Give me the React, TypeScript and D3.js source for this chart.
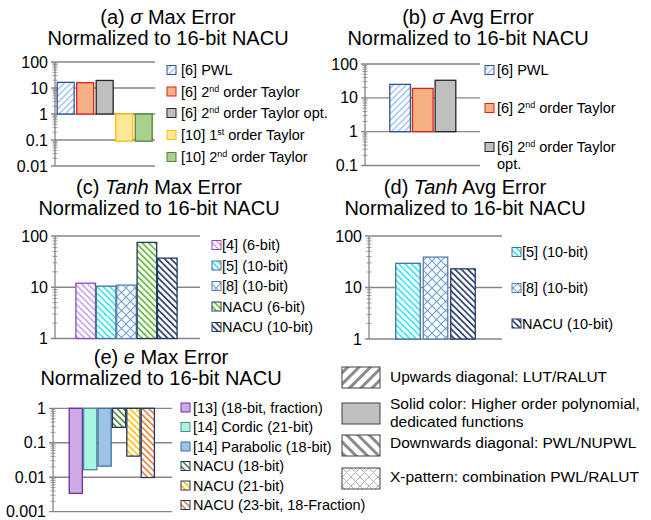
import React from 'react'
import * as d3 from 'd3'

const FONT = '"Liberation Sans", Arial, sans-serif'

// (a) sigma max error
const sigmaMaxLabels = ['[6] PWL', '[6] 2^nd order Taylor', '[6] 2^nd order Taylor opt.', '[10] 1^st order Taylor', '[10] 2^nd order Taylor']
const sigmaMaxValues = [16.5, 16, 19.5, 0.09, 0.09]
const sigmaMaxTicks = [100, 10, 1, 0.1, 0.01]
const sigmaMaxTickLabels = ['100', '10', '1', '0.1', '0.01']

// (b) sigma avg error
const sigmaAvgLabels = ['[6] PWL', '[6] 2^nd order Taylor', '[6] 2^nd order Taylor\nopt.']
const sigmaAvgValues = [25, 19, 33]
const sigmaAvgTicks = [100, 10, 1, 0.1]
const sigmaAvgTickLabels = ['100', '10', '1', '0.1']

// (c) tanh max error
const tanhMaxLabels = ['[4] (6-bit)', '[5] (10-bit)', '[8] (10-bit)', 'NACU (6-bit)', 'NACU (10-bit)']
const tanhMaxValues = [12, 10.5, 11, 75, 37]
const tanhMaxTicks = [100, 10, 1]
const tanhMaxTickLabels = ['100', '10', '1']

// (d) tanh avg error
const tanhAvgLabels = ['[5] (10-bit)', '[8] (10-bit)', 'NACU (10-bit)']
const tanhAvgValues = [29.5, 39, 23]
const tanhAvgTicks = [100, 10, 1]
const tanhAvgTickLabels = ['100', '10', '1']

// (e) e max error
const expMaxLabels = ['[13] (18-bit, fraction)', '[14] Cordic (21-bit)', '[14] Parabolic (18-bit)', 'NACU (18-bit)', 'NACU (21-bit)', 'NACU (23-bit, 18-Fraction)']
const expMaxValues = [0.0034, 0.0165, 0.021, 0.28, 0.041, 0.0098]
const expMaxTicks = [1, 0.1, 0.01, 0.001]
const expMaxTickLabels = ['1', '0.1', '0.01', '0.001']

// fill-pattern key
const patternLabels = ['Upwards diagonal: LUT/RALUT', 'Solid color: Higher order polynomial,\ndedicated functions', 'Downwards diagonal: PWL/NUPWL', 'X-pattern: combination PWL/RALUT']

type Look = { kind: 'solid' | 'up' | 'down' | 'cross'; color: string; stroke: string; period?: number; thick?: number }

const pwl: Look = { kind: 'up', color: '#A9C8EC', stroke: '#2F5597' }
const taylor2: Look = { kind: 'solid', color: '#F4B183', stroke: '#E0201B' }
const taylorOpt: Look = { kind: 'solid', color: '#BFBFBF', stroke: '#262626' }
const taylor1b: Look = { kind: 'solid', color: '#FFE699', stroke: '#FFC000' }
const taylor2b: Look = { kind: 'solid', color: '#A9D18E', stroke: '#548235' }
const cyanDown: Look = { kind: 'down', color: '#2EE6F2', stroke: '#41719C' }
const blueCross: Look = { kind: 'cross', color: '#6C9FD8', stroke: '#5B7FB5', period: 9, thick: 1.1 }
const navyDown: Look = { kind: 'down', color: '#203864', stroke: '#203864' }

const sigmaMaxLooks: Look[] = [pwl, taylor2, taylorOpt, taylor1b, taylor2b]
const sigmaAvgLooks: Look[] = [pwl, taylor2, taylorOpt]
const tanhMaxLooks: Look[] = [
  { kind: 'down', color: '#C9A3E6', stroke: '#8E4BC0' },
  cyanDown,
  blueCross,
  { kind: 'down', color: '#5DB82C', stroke: '#203864' },
  navyDown,
]
const tanhAvgLooks: Look[] = [cyanDown, blueCross, navyDown]
const expMaxLooks: Look[] = [
  { kind: 'solid', color: '#CDA9E6', stroke: '#7030A0' },
  { kind: 'solid', color: '#A8F5E0', stroke: '#4F8C99' },
  { kind: 'solid', color: '#9DC3E6', stroke: '#41719C' },
  { kind: 'down', color: '#548235', stroke: '#203864' },
  { kind: 'down', color: '#FFC000', stroke: '#203864' },
  { kind: 'down', color: '#ED7D31', stroke: '#203864' },
]
const patternLooks: Look[] = [
  { kind: 'up', color: '#8C8C8C', stroke: '#404040', period: 8, thick: 3 },
  { kind: 'solid', color: '#BFBFBF', stroke: '#404040' },
  { kind: 'down', color: '#8C8C8C', stroke: '#404040', period: 8, thick: 3 },
  { kind: 'cross', color: '#B5B5B5', stroke: '#404040', period: 9, thick: 1 },
]

const patId = (l: Look) => `p-${l.kind}-${l.color.slice(1)}-${l.period ?? 4.5}-${l.thick ?? 1.6}`.replace(/\./g, '_')
const fillOf = (l: Look) => (l.kind === 'solid' ? l.color : `url(#${patId(l)})`)

const PatternDef = ({ look }: { look: Look }) => {
  const p = look.period ?? 4.5
  const t = look.thick ?? 1.6
  if (look.kind === 'cross') {
    return (
      <pattern id={patId(look)} patternUnits="userSpaceOnUse" width={p} height={p}>
        <rect width={p} height={p} fill="#fff" />
        <path d={`M0,0L${p},${p}M${p},0L0,${p}`} stroke={look.color} strokeWidth={t} />
      </pattern>
    )
  }
  return (
    <pattern id={patId(look)} patternUnits="userSpaceOnUse" width={p} height={p}
      patternTransform={look.kind === 'up' ? 'rotate(45)' : 'rotate(-45)'}>
      <rect width={p} height={p} fill="#fff" />
      <rect width={t} height={p} fill={look.color} />
    </pattern>
  )
}

// "2^nd" -> 2 with superscript nd
const RichText = ({ text }: { text: string }) => {
  const parts = text.split(/\^(\w+)/)
  return (
    <>
      {parts.map((s, i) =>
        i % 2 === 1 ? (
          <tspan key={i} fontSize="0.62em" baselineShift="super">{s}</tspan>
        ) : (
          <tspan key={i}>{s}</tspan>
        )
      )}
    </>
  )
}

type Frame = {
  axisX: number; right: number; top: number; bottom: number
  c0: number; c1: number; pad: number
}
type Title = { pre: string; it: string; post: string; cx: number; y: number }
type Legend = { boxX: number; textX: number; rows: number[]; box: number }

const Panel = ({ labels, values, looks, ticks, tickLabels, frame, title, legend }: {
  labels: string[]; values: number[]; looks: Look[]; ticks: number[]; tickLabels: string[]
  frame: Frame; title: Title; legend: Legend
}) => {
  const lo = d3.min(ticks) as number
  const hi = d3.max(ticks) as number
  const y = d3.scaleLog().domain([lo, hi]).range([frame.bottom, frame.top])
  const x = d3.scaleBand<string>().domain(labels).range([frame.c0, frame.c1]).paddingInner(frame.pad)
  const minor: number[] = []
  ticks.forEach((t) => {
    if (t < hi) for (let k = 2; k <= 9; k++) minor.push(t * k)
  })
  const base = y(1)
  return (
    <g>
      <text textAnchor="middle" fontSize={20} x={title.cx} y={title.y}>
        {title.pre}<tspan fontStyle="italic">{title.it}</tspan>{title.post}
      </text>
      <text textAnchor="middle" fontSize={20} x={title.cx} y={title.y + 21}>Normalized to 16-bit NACU</text>
      {ticks.map((t, i) => (
        <g key={t}>
          <line x1={frame.axisX - 4} x2={frame.right} y1={y(t)} y2={y(t)} stroke="#868686" strokeWidth={1.3} />
          <text x={frame.axisX - 7} y={y(t) + 5.5} textAnchor="end" fontSize={16}>{tickLabels[i]}</text>
        </g>
      ))}
      {minor.map((m) => (
        <line key={m} x1={frame.axisX - 2.5} x2={frame.axisX + 2.5} y1={y(m)} y2={y(m)} stroke="#868686" strokeWidth={0.8} />
      ))}
      <line x1={frame.axisX} x2={frame.axisX} y1={frame.top} y2={frame.bottom} stroke="#868686" strokeWidth={1.3} />
      {values.map((v, i) => {
        const yv = y(v)
        return (
          <rect key={i} x={x(labels[i])} width={x.bandwidth()} y={Math.min(yv, base)} height={Math.abs(base - yv)}
            fill={fillOf(looks[i])} stroke={looks[i].stroke} strokeWidth={1.3} />
        )
      })}
      {labels.map((lab, i) => {
        const lines = lab.split('\n')
        const cy = legend.rows[i]
        return (
          <g key={lab}>
            <rect x={legend.boxX} y={cy - legend.box / 2} width={legend.box} height={legend.box}
              fill={fillOf(looks[i])} stroke={looks[i].stroke} strokeWidth={1} />
            {lines.map((ln, j) => (
              <text key={j} x={legend.textX} y={cy + 5 + j * 17} fontSize={14.5}><RichText text={ln} /></text>
            ))}
          </g>
        )
      })}
    </g>
  )
}

const App = () => {
  const allLooks = [...sigmaMaxLooks, ...sigmaAvgLooks, ...tanhMaxLooks, ...tanhAvgLooks, ...expMaxLooks, ...patternLooks]
  const uniq = Array.from(new Map(allLooks.filter((l) => l.kind !== 'solid').map((l) => [patId(l), l])).values())
  const keyRows = [377, 404, 443, 477]
  const keyBoxes = [367, 403, 435, 468]
  return (
    <svg width={651} height={520} style={{ position: 'absolute', left: 0, top: 0, fontFamily: FONT }}>
      <defs>
        {uniq.map((l) => <PatternDef key={patId(l)} look={l} />)}
      </defs>
      <rect width={651} height={520} fill="#fff" />
      <Panel labels={sigmaMaxLabels} values={sigmaMaxValues} looks={sigmaMaxLooks}
        ticks={sigmaMaxTicks} tickLabels={sigmaMaxTickLabels}
        frame={{ axisX: 55, right: 155, top: 62, bottom: 166, c0: 57.2, c1: 152.2, pad: 0.13 }}
        title={{ pre: '(a) ', it: 'σ', post: ' Max Error', cx: 168, y: 24 }}
        legend={{ boxX: 167, textX: 181, rows: [70, 91.5, 113, 135, 157], box: 9 }} />
      <Panel labels={sigmaAvgLabels} values={sigmaAvgValues} looks={sigmaAvgLooks}
        ticks={sigmaAvgTicks} tickLabels={sigmaAvgTickLabels}
        frame={{ axisX: 365, right: 480, top: 64, bottom: 165.5, c0: 389.8, c1: 455.8, pad: 0.09 }}
        title={{ pre: '(b) ', it: 'σ', post: ' Avg Error', cx: 468, y: 24 }}
        legend={{ boxX: 485, textX: 497, rows: [70, 108, 147], box: 9 }} />
      <Panel labels={tanhMaxLabels} values={tanhMaxValues} looks={tanhMaxLooks}
        ticks={tanhMaxTicks} tickLabels={tanhMaxTickLabels}
        frame={{ axisX: 55, right: 200, top: 236, bottom: 338.5, c0: 75.9, c1: 177.1, pad: 0.04 }}
        title={{ pre: '(c) ', it: 'Tanh', post: ' Max Error', cx: 159, y: 194 }}
        legend={{ boxX: 212, textX: 222, rows: [245, 265.5, 286, 306.5, 327], box: 9 }} />
      <Panel labels={tanhAvgLabels} values={tanhAvgValues} looks={tanhAvgLooks}
        ticks={tanhAvgTicks} tickLabels={tanhAvgTickLabels}
        frame={{ axisX: 369, right: 502, top: 236, bottom: 339, c0: 395.75, c1: 475.25, pad: 0.11 }}
        title={{ pre: '(d) ', it: 'Tanh', post: ' Avg Error', cx: 465, y: 194 }}
        legend={{ boxX: 512, textX: 522, rows: [252, 288, 323.5], box: 9 }} />
      <Panel labels={expMaxLabels} values={expMaxValues} looks={expMaxLooks}
        ticks={expMaxTicks} tickLabels={expMaxTickLabels}
        frame={{ axisX: 53, right: 172, top: 408.3, bottom: 511.7, c0: 69.2, c1: 154.4, pad: 0.085 }}
        title={{ pre: '(e) ', it: 'e', post: ' Max Error', cx: 161, y: 364 }}
        legend={{ boxX: 181, textX: 193, rows: [407.5, 427, 446.5, 466, 485.5, 505], box: 9 }} />
      {patternLabels.map((lab, i) => (
        <g key={lab}>
          <rect x={342} y={keyBoxes[i]} width={38} height={21} fill={fillOf(patternLooks[i])}
            stroke={patternLooks[i].stroke} strokeWidth={1} />
          {lab.split('\n').map((ln, j) => (
            <text key={j} x={390} y={keyRows[i] + 5 + j * 18} fontSize={15.5}>{ln}</text>
          ))}
        </g>
      ))}
    </svg>
  )
}

export default App
